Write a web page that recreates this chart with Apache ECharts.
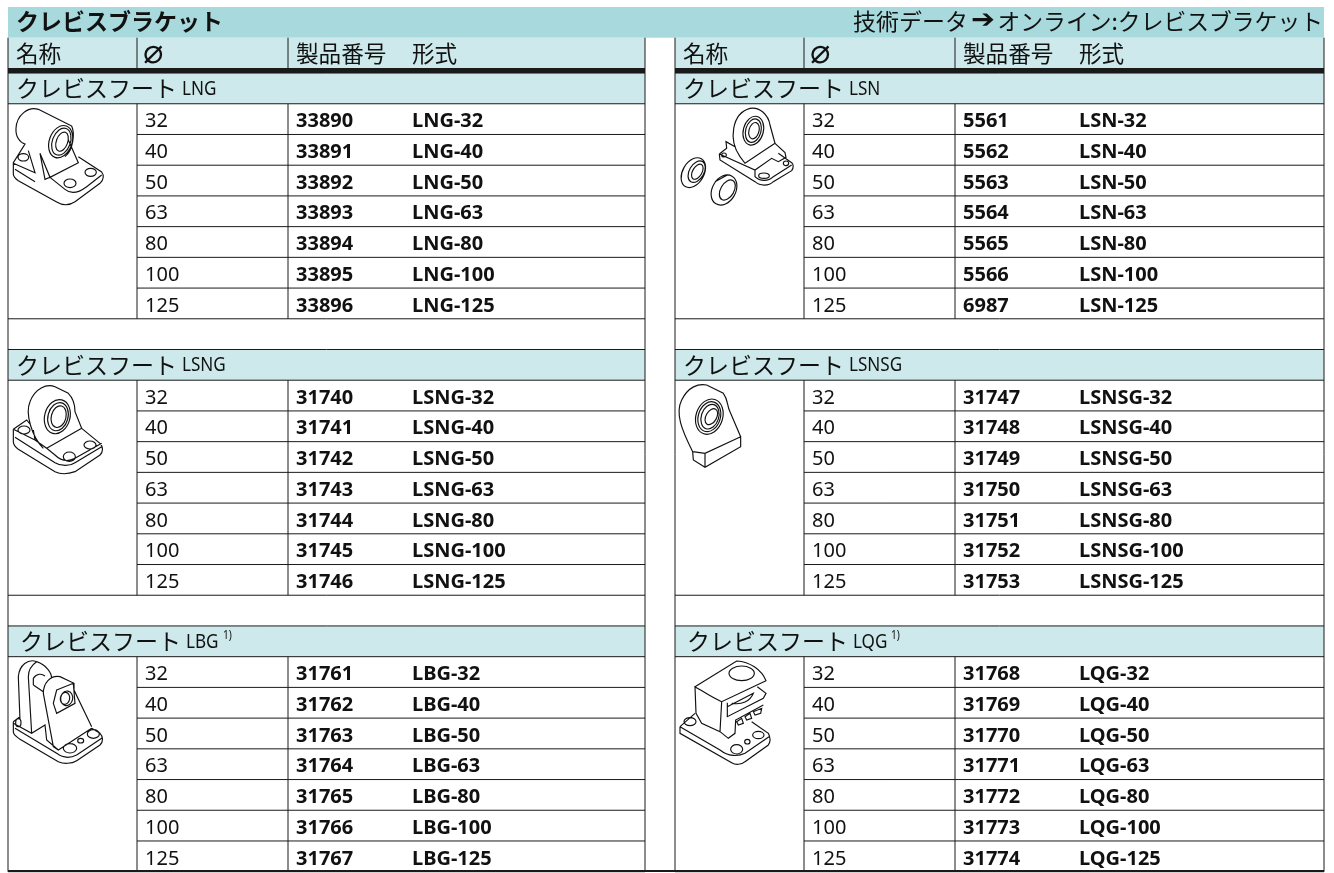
<!DOCTYPE html>
<html lang="ja">
<head>
<meta charset="UTF-8">
<title>クレビスブラケット</title>
<script src="https://cdn.jsdelivr.net/npm/echarts@6/dist/echarts.min.js"></script>
<style>
    html, body { margin: 0; padding: 0; background: #fff; }
    #main { width: 1334px; height: 873px; }
</style>
</head>
<body>
<div id="main"></div>
<script>
// table content
var titleLeft = 'クレビスブラケット'
var titleTech = '技術データ'
var titleArrow = '➔'
var titleOnline = 'オンライン:クレビスブラケット'
var headers = ['名称', '⌀', '製品番号', '形式']
var footName = 'クレビスフート'
var bores = ['32', '40', '50', '63', '80', '100', '125']

var lngNumbers = ['33890', '33891', '33892', '33893', '33894', '33895', '33896']
var lsnNumbers = ['5561', '5562', '5563', '5564', '5565', '5566', '6987']
var lsngNumbers = ['31740', '31741', '31742', '31743', '31744', '31745', '31746']
var lsnsgNumbers = ['31747', '31748', '31749', '31750', '31751', '31752', '31753']
var lbgNumbers = ['31761', '31762', '31763', '31764', '31765', '31766', '31767']
var lqgNumbers = ['31768', '31769', '31770', '31771', '31772', '31773', '31774']

var leftCodes = ['LNG', 'LSNG', 'LBG']
var rightCodes = ['LSN', 'LSNSG', 'LQG']
var leftNumbers = [lngNumbers, lsngNumbers, lbgNumbers]
var rightNumbers = [lsnNumbers, lsnsgNumbers, lqgNumbers]
var footnoted = ['LBG', 'LQG']

// layout: x axis is in page pixels, y axis is in table rows
var COLS = [[8, 137, 288, 404, 645], [675, 804, 955, 1071, 1324]]
var BAND = '#a8d9dd', PALE = '#cde9eb', INK = '#1a1a1a'
var JP = '"Noto Sans CJK JP"'
var LATIN = '"Noto Sans","Noto Sans CJK JP"'

var rects = [], lines = [], texts = []

function rect(x0, x1, r0, r1, color) { rects.push({x0: x0, x1: x1, r0: r0, r1: r1, color: color}) }
function line(x0, r0, x1, r1, w) { lines.push({x0: x0, r0: r0, x1: x1, r1: r1, w: w || 1}) }
function text(x, r, s, font, align, sx) { texts.push({x: x, r: r, s: s, font: font, align: align || 'left', sx: sx || 1}) }

rect(8, 1324, -2.15, -1.15, BAND)
text(16, -1.67, titleLeft, 'bold 23px ' + JP)
text(853, -1.67, titleTech, '23px ' + JP)
text(971, -1.67, titleArrow, 'bold 26px "DejaVu Sans"', 'left', 1.1)
text(1323, -1.67, titleOnline, '22.8px ' + JP, 'right')

COLS.forEach(function (c, side) {
    var codes = side ? rightCodes : leftCodes
    var numbers = side ? rightNumbers : leftNumbers
    rect(c[0], c[4], -1.15, 0, PALE)
    headers.forEach(function (h, i) {
        if (i == 1) text(c[i] + 6, -0.63, h, '200 34px "DejaVu Sans"')
        else text(c[i] + 8, -0.65, h, '22.6px ' + JP)
    })
    line(c[1], -1.15, c[1], -0.15)
    line(c[2], -1.15, c[2], -0.15)
    line(c[0], -1.15, c[0], 26)
    line(c[4], -1.15, c[4], 26)
    line(c[0], -0.08, c[4], -0.08, 5)

    codes.forEach(function (code, s) {
        var top = s * 9
        rect(c[0], c[4], top, top + 1, PALE)
        line(c[0], top, c[4], top)
        var indent = footnoted.indexOf(code) >= 0 ? 12 : 8
        text(c[0] + indent, top + 0.5, footName, '23px ' + JP)
        text(c[0] + indent + 166, top + 0.53, code, '19px ' + LATIN, 'left', 0.9)
        if (footnoted.indexOf(code) >= 0) {
            text(c[0] + indent + 166 + (code == 'LBG' ? 37 : 38), top + 0.32, '1)', '12px ' + LATIN, 'left', 0.85)
        }
        line(c[1], top + 1, c[1], top + 8)
        line(c[2], top + 1, c[2], top + 8)
        bores.forEach(function (b, i) {
            var r = top + 1 + i
            line(c[1], r, c[4], r)
            if (i == 0) line(c[0], r, c[1], r)
            text(c[1] + 8, r + 0.58, b, '20px ' + LATIN)
            text(c[2] + 8, r + 0.58, numbers[s][i], 'bold 20px ' + LATIN)
            text(c[3] + 8, r + 0.58, code + '-' + b, 'bold 20px ' + LATIN)
        })
        line(c[0], top + 8, c[4], top + 8)
    })
})
line(8, 25.98, 1324, 25.98, 2)

// ellipse as path, drawn in 3x crop units
function ell(cx, cy, rx, ry, rot) {
    var a = (rot || 0) * Math.PI / 180
    var dx = rx * Math.cos(a), dy = rx * Math.sin(a)
    return 'M' + (cx - dx) + ' ' + (cy - dy) +
        'A' + rx + ' ' + ry + ' ' + (rot || 0) + ' 1 1 ' + (cx + dx) + ' ' + (cy + dy) +
        'A' + rx + ' ' + ry + ' ' + (rot || 0) + ' 1 1 ' + (cx - dx) + ' ' + (cy - dy)
}

// part sketches, in the units of a 3x crop at the given origin
var sketches = [
    {x: 0, y: 0, d:
        'M215 378L115 328C85 318 50 345 48 385C46 410 60 428 75 432L40 488' +
        'L40 522C40 532 46 536 55 542L170 606C190 618 210 615 225 605L300 550C312 540 312 525 305 516L235 470' +
        'M40 490L105 518L85 452M45 508L105 545M120 460L150 532L235 488L205 420' +
        'M150 532L135 538L120 460M150 532L195 568C215 585 240 575 260 560L305 525' +
        'M215 378C225 400 220 450 195 470' +
        ell(182, 425, 34, 50, 20) + ell(184, 425, 27, 42, 20) + ell(186, 425, 17, 30, 20) +
        ell(70, 472, 16, 11, 0) + ell(210, 550, 18, 13, 0) + ell(272, 517, 17, 12, 0)},
    {x: 640, y: 0, d:
        'M300 470C265 420 275 340 330 325C360 320 385 345 390 375L405 430L315 490L300 470' +
        ell(340, 392, 30, 44, 15) + ell(340, 392, 23, 36, 15) + ell(342, 392, 15, 25, 15) +
        'M238 462L260 445L258 425L285 440M238 462L240 480L345 545C360 558 385 560 400 545L455 512C462 502 460 492 455 488L415 460' +
        'M405 430L435 458L438 472L415 485L395 475L345 510L238 462M345 510L345 530C360 545 385 545 400 530L455 495' +
        ell(372, 527, 16, 8, 0) + ell(438, 490, 8, 7, 0) + ell(252, 465, 7, 6, 0) +
        ell(160, 518, 32, 48, 30) + ell(170, 515, 22, 35, 30) + ell(172, 515, 14, 25, 30) +
        ell(252, 570, 35, 48, 30) + ell(262, 570, 20, 33, 30) +
        'M225 545L262 525'},
    {x: 0, y: 330, d:
        'M130 355C95 320 75 250 90 215C105 175 140 160 165 170L205 190C220 205 225 230 225 245L245 295L140 355' +
        ell(172, 260, 38, 52, 15) + ell(174, 260, 30, 43, 15) + ell(176, 260, 22, 33, 15) +
        'M40 298L80 270L90 282M40 298L40 335C40 345 45 350 55 358L165 425C185 435 205 432 225 425L300 375C310 365 310 350 300 340L245 295' +
        'M40 298L105 330L100 300M105 330L140 355L165 375C185 395 205 395 225 385L305 340M45 322L165 398C185 410 210 408 225 398L305 350' +
        ell(72, 300, 18, 12, 0) + ell(208, 380, 18, 14, 0) + ell(270, 345, 18, 12, 0)},
    {x: 670, y: 330, d:
        'M68 365C35 300 15 250 35 210C55 170 85 160 110 165L160 190C175 210 170 225 180 245L212 320L105 370L68 365' +
        'M68 365L70 390L105 412L212 350L212 320M105 370L105 412' +
        ell(118, 260, 40, 54, 18) + ell(118, 260, 33, 46, 18) + ell(120, 260, 26, 38, 18) + ell(124, 260, 16, 26, 30)},
    {x: 0, y: 590, d:
        'M40 395L40 425C40 435 50 440 60 448L175 515C190 522 215 522 230 512L300 465C310 455 310 440 300 430L275 415' +
        'M40 395L60 380M40 400L95 430L135 405L140 450L175 480L275 415M45 415L170 490C190 505 210 505 230 495L305 445' +
        'M60 390L55 260C58 225 85 205 110 215C140 225 155 250 155 265M95 430L85 260C85 240 95 225 110 215' +
        'M175 480L160 470L130 310C130 280 150 255 180 260L222 280L222 300L275 410' +
        'M100 285L100 265C110 250 125 250 135 258M100 285L130 305' +
        'M170 300L220 280L225 340L170 370L160 340Z' +
        ell(200, 325, 18, 22, 10) + ell(195, 325, 14, 18, 10) +
        ell(210, 475, 20, 14, 0) + ell(242, 452, 9, 7, 0) + ell(280, 432, 18, 13, 0) + ell(55, 398, 8, 12, 0)},
    {x: 670, y: 590, d:
        'M75 290L200 213C240 215 275 240 288 272L155 335C130 325 100 305 75 290ZM75 290L78 370L95 400L150 425L175 445L195 430L197 390L280 345' +
        'M155 335L150 425M172 338L172 380L280 325L288 310L262 290M172 350L250 310C240 335 215 345 185 340' +
        'M200 395L215 385L220 400L205 405ZM225 380L240 370L245 385L230 390ZM250 365L275 355L272 370L255 375Z' +
        'M30 410L30 430L185 518C195 525 215 525 225 515L295 465C302 455 300 440 295 430L245 395M30 410L75 370' +
        'M30 410L150 480C175 500 205 500 225 490L297 440' +
        ell(215, 250, 38, 22, 0) + ell(60, 395, 18, 12, 0) + ell(200, 478, 18, 14, 0) + ell(265, 435, 17, 11, 0) + ell(232, 455, 8, 7, 0)}
]

function indexData(list) {
    return list.map(function (d, i) { return [i, 0] })
}

var chart = echarts.init(document.getElementById('main'))
chart.setOption({
    animation: false,
    backgroundColor: '#fff',
    grid: {left: 0, right: 0, top: 7, height: 864.7},
    xAxis: {type: 'value', min: 0, max: 1334, show: false},
    yAxis: {type: 'value', min: -2.15, max: 26, inverse: true, show: false},
    series: [
        {
            type: 'custom', data: indexData(rects), clip: false, silent: true, z: 1,
            renderItem: function (p, api) {
                var o = rects[p.dataIndex]
                var a = api.coord([o.x0, o.r0]), b = api.coord([o.x1, o.r1])
                return {type: 'rect', shape: {x: a[0], y: a[1], width: b[0] - a[0], height: b[1] - a[1]}, style: {fill: o.color}}
            }
        },
        {
            type: 'custom', data: indexData(lines), clip: false, silent: true, z: 2,
            renderItem: function (p, api) {
                var o = lines[p.dataIndex]
                var a = api.coord([o.x0, o.r0]), b = api.coord([o.x1, o.r1])
                return {type: 'line', shape: {x1: a[0], y1: a[1], x2: b[0], y2: b[1]}, style: {stroke: INK, lineWidth: o.w}}
            }
        },
        {
            type: 'custom', data: indexData(texts), clip: false, silent: true, z: 3,
            renderItem: function (p, api) {
                var o = texts[p.dataIndex]
                var a = api.coord([o.x, o.r])
                return {type: 'text', x: a[0], y: a[1], scaleX: o.sx, style: {text: o.s, font: o.font, fill: '#111', align: o.align, verticalAlign: 'middle'}}
            }
        },
        {
            type: 'custom', data: indexData(sketches), clip: false, silent: true, z: 4,
            renderItem: function (p, api) {
                var o = sketches[p.dataIndex]
                return {
                    type: 'path', x: o.x, y: o.y, scaleX: 1 / 3, scaleY: 1 / 3,
                    shape: {pathData: o.d},
                    style: {fill: 'none', stroke: '#111', lineWidth: 3.5}
                }
            }
        }
    ]
})
</script>
</body>
</html>
